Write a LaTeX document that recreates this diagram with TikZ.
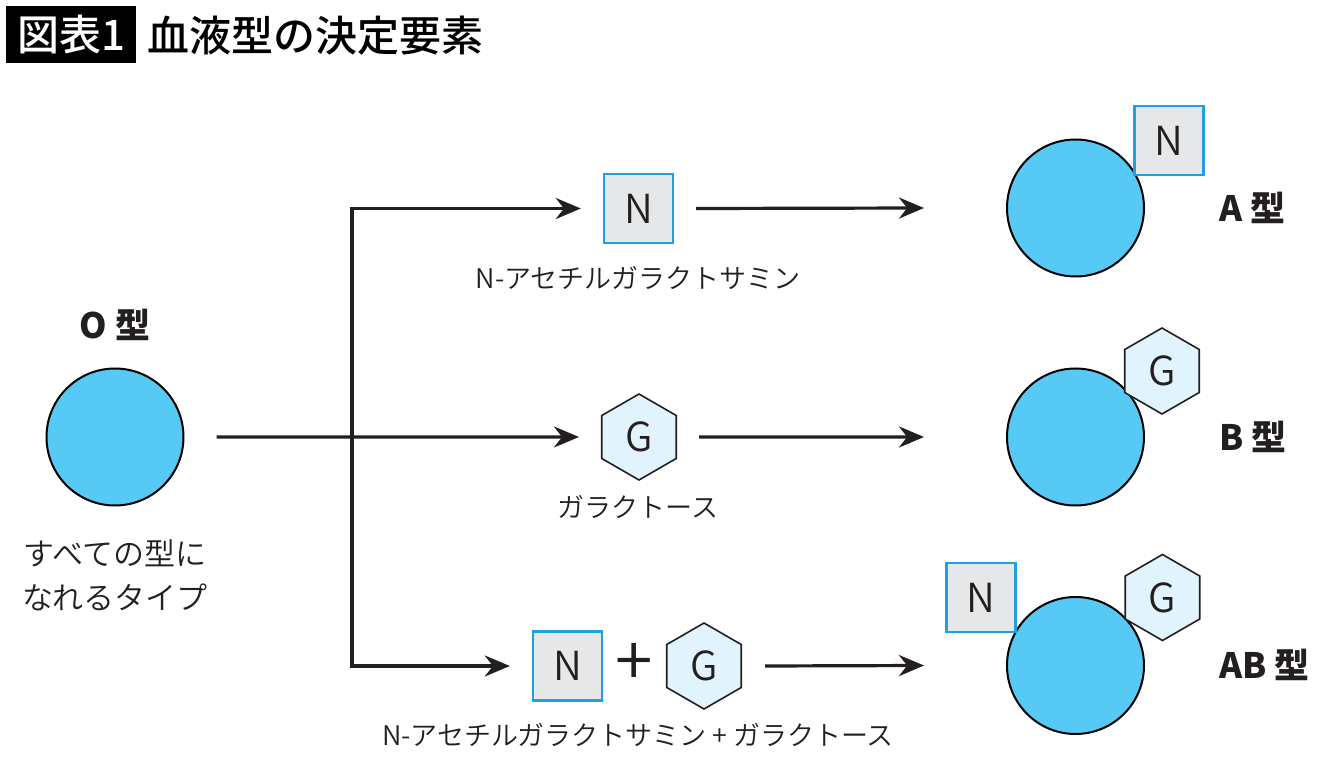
\documentclass[tikz,border=0pt]{standalone}
\usepackage{fontspec}
\setmainfont{Noto Sans CJK JP}
\newfontfamily\medfont{Noto Sans CJK JP}[UprightFont=* Medium]
\newfontfamily\thinfont{Noto Sans CJK JP}[UprightFont=* DemiLight]
\usetikzlibrary{arrows.meta,shapes.geometric}
\definecolor{bloodblue}{HTML}{56C9F5}
\definecolor{nedge}{HTML}{1EA1E0}
\definecolor{nfill}{HTML}{E6E7E8}
\definecolor{gfill}{HTML}{E1F3FC}
\definecolor{ink}{HTML}{231F20}
\tikzset{
  cell/.style={circle,draw=black,line width=1pt,fill=bloodblue,minimum size=68.5pt,inner sep=0pt},
  nbox/.style={rectangle,draw=nedge,line width=1.2pt,fill=nfill,minimum size=34.5pt,inner sep=0pt,text=ink,font=\thinfont\fontsize{20}{20}\selectfont},
  ghex/.style={regular polygon,regular polygon sides=6,shape border rotate=30,draw=ink,line width=0.8pt,fill=gfill,minimum size=43pt,inner sep=0pt,text=ink,font=\thinfont\fontsize{20}{20}\selectfont},
  flow/.style={-{Stealth[length=12.5pt,width=10.5pt]},line width=1.6pt,draw=ink},
  typelbl/.style={font=\bfseries\fontsize{17.5}{17.5}\selectfont,text=ink},
  sublbl/.style={font=\thinfont\fontsize{13.5}{13.5}\selectfont,text=ink}
}
\begin{document}
\begin{tikzpicture}[x=0.5pt,y=-0.5pt]
\useasboundingbox (0,0) rectangle (1340,775);

\node[fill=black,text=white,minimum width=65pt,minimum height=28.5pt,inner sep=0pt,font=\medfont\fontsize{21}{21}\selectfont] (fig) at (71,34.5) {図表1};
\node[anchor=west,inner sep=0pt,text=black,font=\medfont\fontsize{21}{21}\selectfont] (title) at (147,36) {血液型の決定要素};

\node[cell] (cO) at (115,437) {};
\node[typelbl] (lO) at (115,325) {O 型};
\node[sublbl,align=center,font=\thinfont\fontsize{15.5}{22}\selectfont] (dO) at (115,575) {すべての型に\\なれるタイプ};

\node[nbox] (sN) at (638.5,208.5) {N};
\node[ghex] (hG) at (639,437) {G};
\node[nbox] (sN3) at (567.5,666) {N};
\node[font=\thinfont\fontsize{34}{34}\selectfont,text=ink,inner sep=0pt] (plus) at (634,664) {+};
\node[ghex] (hG3) at (704,666) {G};

\node[sublbl] (lN) at (638,278) {N-アセチルガラクトサミン};
\node[sublbl] (lG) at (638,507) {ガラクトース};
\node[sublbl] (lNG) at (638,735) {N-アセチルガラクトサミン + ガラクトース};

\coordinate (fork) at (352,437);
\draw[flow] ([xshift=16pt]cO.east) -- ([xshift=-11pt]hG.west);
\draw[{Stealth[length=12.5pt,width=10.5pt]}-{Stealth[length=12.5pt,width=10.5pt]},line width=1.6pt,draw=ink]
  ([xshift=-11pt]sN.west) -- (fork |- sN.west) -- (fork |- sN3.west) -- ([xshift=-11pt]sN3.west);

\node[cell] (cA) at (1075.5,208) {};
\node[cell] (cB) at (1075.5,437) {};
\node[cell] (cAB) at (1075.5,665.5) {};

\draw[flow] ([xshift=11pt]sN.east) -- ([xshift=-41pt]cA.west);
\draw[flow] ([xshift=11pt]hG.east) -- ([xshift=-41pt]cB.west);
\draw[flow] ([xshift=11.5pt]hG3.east) -- ([xshift=-41pt]cAB.west);

\node[nbox] (aN) at (1169,140.5) {N};
\node[ghex] (bG) at (1162,371) {G};
\node[nbox] (abN) at (981,597.5) {N};
\node[ghex] (abG) at (1162.5,597.5) {G};

\node[typelbl,anchor=west] (lA) at (1212,208) {A 型};
\node[typelbl,anchor=west] (lB) at (1212,437) {B 型};
\node[typelbl,anchor=west] (lAB) at (1212,665) {AB 型};
\end{tikzpicture}
\end{document}
